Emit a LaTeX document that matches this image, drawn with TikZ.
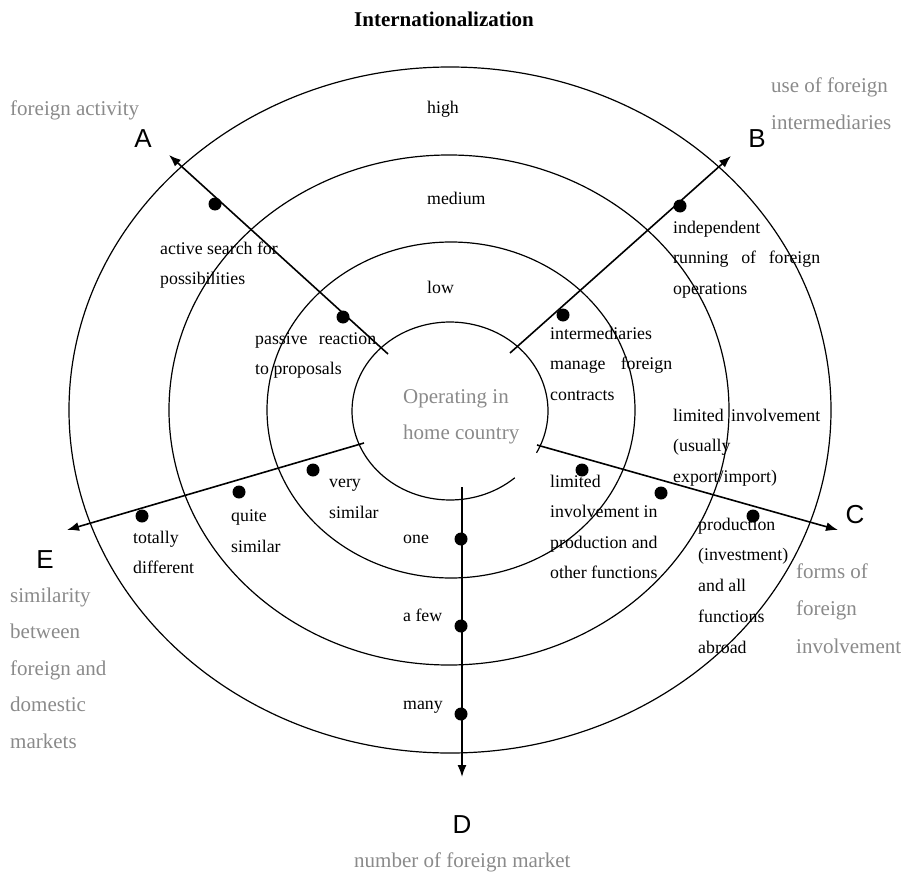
\documentclass[tikz,border=0pt]{standalone}
\usepackage{fontspec}
\setmainfont{Liberation Serif}
\newfontfamily\lettfont{Liberation Sans}
\usetikzlibrary{arrows.meta}
\definecolor{graytext}{RGB}{138,138,138}
\begin{document}
\begin{tikzpicture}[x=1pt,y=-1pt,
  ring/.style={line width=1.2pt},
  axisline/.style={line width=1.6pt,-{Latex[length=12pt,width=9pt]}},
  dot/.style={circle,fill=black,inner sep=0pt,minimum size=13pt},
  lbl/.style={inner sep=0pt,anchor=base west,align=left,font=\fontsize{17.8}{30.5}\selectfont},
  glbl/.style={inner sep=0pt,anchor=base west,align=left,text=graytext,font=\fontsize{21}{36.5}\selectfont},
  letter/.style={inner sep=0pt,anchor=base,font=\lettfont\fontsize{26}{26}\selectfont},
]
\useasboundingbox (0,0) rectangle (902,872);

% rings
\draw[ring] (450,410) ellipse [x radius=381, y radius=343];
\draw[ring] (449,410) ellipse [x radius=280, y radius=255];
\draw[ring] (451,410) ellipse [x radius=184, y radius=168];
\draw[ring] (450,411) ++(48.6:98 and 89) arc[start angle=48.6, end angle=388, x radius=98, y radius=89];

% axis coordinates
\coordinate (A0) at (388,354); \coordinate (AT) at (169,155);
\coordinate (B0) at (510,353); \coordinate (BT) at (731,156);
\coordinate (C0) at (537,445); \coordinate (CT) at (838,530);
\coordinate (E0) at (364,443); \coordinate (ET) at (67,530);
\coordinate (D0) at (462,487); \coordinate (DT) at (462,777);

\draw[axisline] (A0) -- (AT);
\draw[axisline] (B0) -- (BT);
\draw[axisline] (C0) -- (CT);
\draw[axisline] (E0) -- (ET);
\draw[axisline] (D0) -- (DT);

% dots
\node[dot] (a1) at (215,204) {};
\node[dot] (a2) at (343,317) {};
\node[dot] (b1) at (680,206) {};
\node[dot] (b2) at (563,315) {};
\node[dot] (c1) at (582,470) {};
\node[dot] (c2) at (661,493) {};
\node[dot] (c3) at (753,516) {};
\node[dot] (e1) at (313,470) {};
\node[dot] (e2) at (239,492) {};
\node[dot] (e3) at (142,516) {};
\node[dot] (d1) at (461,539) {};
\node[dot] (d2) at (461,626) {};
\node[dot] (d3) at (461,714) {};

% title
\node[inner sep=0pt,anchor=base west,font=\fontsize{21}{21}\selectfont\bfseries] (title) at (354,27) {Internationalization};

% letters
\node[letter] (LA) at (143,147) {A};
\node[letter] (LB) at (757,147) {B};
\node[letter] (LC) at (855,523) {C};
\node[letter] (LD) at (462,833) {D};
\node[letter] (LE) at (45,568) {E};

% gray axis titles (anchor = baseline of last line)
\node[glbl] (gA) at (10,116) {foreign activity};
\node[glbl,font=\fontsize{21}{37}\selectfont] (gB) at (771,130) {use of foreign\\intermediaries};
\node[glbl,font=\fontsize{21}{37.5}\selectfont] (gC) at (796,653) {forms of\\foreign\\involvement};
\node[glbl] (gE) at (10,748) {similarity\\between\\foreign and\\domestic\\markets};
\node[glbl] (gD) at (354,867) {number of foreign market};
\node[glbl,font=\fontsize{21}{36}\selectfont] (home) at (403,439) {Operating in\\home country};

% level labels
\node[lbl] (high) at (427,114) {high};
\node[lbl] (medium) at (427,204) {medium};
\node[lbl] (low) at (427,293) {low};

% A labels
\node[lbl] (ta1) at (160,284.5) {active search for\\possibilities};
\node[lbl] (ta2) at (255,374.5) {\makebox[121pt][s]{passive reaction}\\to proposals};

% B labels
\node[lbl] (tb1) at (673,294) {independent\\\makebox[147pt][s]{running of foreign}\\operations};
\node[lbl] (tb2) at (550,400) {intermediaries\\\makebox[122pt][s]{manage foreign}\\contracts};

% C labels
\node[lbl] (tc1) at (550,578.5) {limited\\involvement in\\production and\\other functions};
\node[lbl] (tc2) at (673,482) {\makebox[147pt][s]{limited involvement}\\(usually\\export/import)};
\node[lbl,font=\fontsize{17.8}{30.7}\selectfont] (tc3) at (698,653) {production\\(investment)\\and all\\functions\\abroad};

% E labels
\node[lbl,font=\fontsize{17.8}{31}\selectfont] (te1) at (329,518) {very\\similar};
\node[lbl,font=\fontsize{17.8}{31}\selectfont] (te2) at (231,552) {quite\\similar};
\node[lbl] (te3) at (133,573.5) {totally\\different};

% D labels
\node[lbl] (td1) at (403,543) {one};
\node[lbl] (td2) at (403,621) {a few};
\node[lbl] (td3) at (403,709) {many};
\end{tikzpicture}
\end{document}
